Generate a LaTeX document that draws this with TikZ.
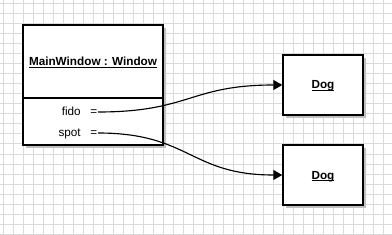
\documentclass[tikz,border=0pt]{standalone}
\usepackage{fontspec}
\setmainfont{Liberation Sans}
\usetikzlibrary{arrows.meta,shadows}
\definecolor{gridc}{HTML}{DADADA}
\definecolor{shadowc}{HTML}{C0C0C0}
\newcommand{\ulx}[1]{\setbox0\hbox{#1}\rlap{\rule[-1.4pt]{\wd0}{0.65pt}}\box0}
\begin{document}
\begin{tikzpicture}[x=0.75pt,y=-0.75pt,
  objbox/.style={draw=black, line width=1.1pt, fill=white, inner sep=0pt,
    drop shadow={shadow xshift=2.6pt, shadow yshift=-2.6pt, opacity=1, fill=shadowc}},
  conn/.style={line width=0.85pt, -{Triangle[length=6.75pt,width=7.5pt]}},
  lbl/.style={font=\fontsize{8.8}{10}\selectfont, inner sep=0pt},
  title/.style={lbl, font=\fontsize{8.8}{10}\selectfont\bfseries},
]
\useasboundingbox (0,0) rectangle (392,235);
\fill[white] (0,0) rectangle (392,235);
\foreach \x in {3,13,...,383} \draw[gridc, line width=0.75pt] (\x,0) -- (\x,235);
\foreach \y in {4,14,...,234} \draw[gridc, line width=0.75pt] (0,\y) -- (392,\y);

% main object
\node[objbox, minimum width=105pt, minimum height=90pt] (main) at (93,85) {};
\draw[line width=0.9pt] (main.west |- 0,98) coordinate (divl) -- (main.east |- 0,98) coordinate (divr);
\node[title, anchor=base] (mtitle) at (93,66) {\ulx{MainWindow : Window}};
\node[lbl, anchor=base east] (fido) at (81,116) {fido};
\node[lbl, anchor=base west] (fidoeq) at (90,116) {=};
\node[lbl, anchor=base east] (spot) at (81,137) {spot};
\node[lbl, anchor=base west] (spoteq) at (90,137) {=};
\coordinate (fidoend) at (98,112);
\coordinate (spotend) at (98,133);

% dogs
\node[objbox, minimum width=60pt, minimum height=45pt] (dog1) at (323,85) {};
\node[title, anchor=base] (dog1t) at (323,89) {\ulx{Dog}};
\node[objbox, minimum width=60pt, minimum height=45pt] (dog2) at (323,175) {};
\node[title, anchor=base] (dog2t) at (323,179) {\ulx{Dog}};

\draw[conn] (fidoend) .. controls (190,112) and (190,85) .. (dog1.west);
\draw[conn] (spotend) .. controls (190,133) and (190,175) .. (dog2.west);
\end{tikzpicture}
\end{document}
